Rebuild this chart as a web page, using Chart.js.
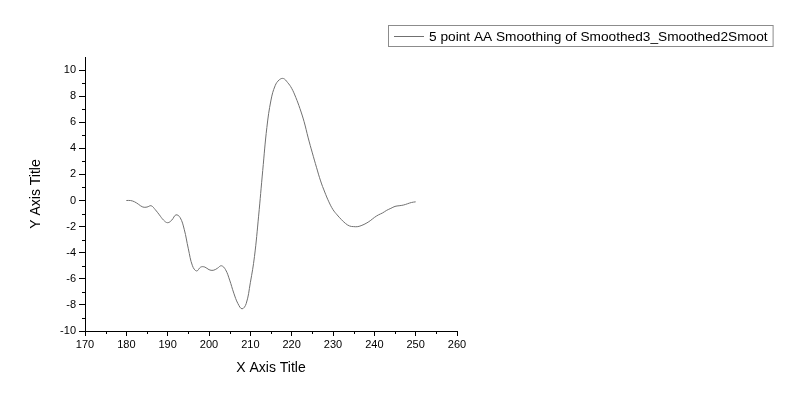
<!DOCTYPE html>
<html>
<head>
<meta charset="utf-8">
<script src="https://cdn.jsdelivr.net/npm/chart.js@4.4.1/dist/chart.umd.min.js"></script>
<style>
  html, body { margin: 0; padding: 0; background: #fff; }
  #wrap { width: 800px; height: 403px; }
</style>
</head>
<body>
<div id="wrap"><canvas id="chart" width="800" height="403"></canvas></div>
<script>
const seriesLabel = '5 point AA Smoothing of Smoothed3_Smoothed2Smoot'
const xValues = [
  180, 181, 182, 183, 184, 185, 186, 187, 188, 189,
  190, 191, 192, 193, 194, 195, 196, 197, 198, 199,
  200, 201, 202, 203, 204, 205, 206, 207, 208, 209,
  210, 211, 212, 213, 214, 215, 216, 217, 218, 219,
  220, 221, 222, 223, 224, 225, 226, 227, 228, 229,
  230, 231, 232, 233, 234, 235, 236, 237, 238, 239,
  240, 241, 242, 243, 244, 245, 246, 247, 248, 249, 250
]
const yValues = [
  0.0, 0.0, -0.1, -0.3, -0.5, -0.5, -0.4, -0.7, -1.1, -1.5,
  -1.7, -1.5, -1.1, -1.3, -2.2, -3.7, -5.0, -5.4, -5.1, -5.1,
  -5.3, -5.35, -5.2, -5.0, -5.3, -6.1, -7.1, -7.9, -8.3, -7.9,
  -6.3, -4.3, -1.2, 2.3, 5.6, 7.7, 8.8, 9.25, 9.35, 9.05,
  8.6, 7.9, 7.05, 6.05, 4.8, 3.65, 2.55, 1.5, 0.65, -0.1,
  -0.7, -1.1, -1.45, -1.75, -1.95, -2.0, -2.0, -1.9, -1.75, -1.55,
  -1.3, -1.1, -0.95, -0.75, -0.6, -0.45, -0.4, -0.35, -0.25, -0.15, -0.1
]
const xTicks = [170, 180, 190, 200, 210, 220, 230, 240, 250, 260]
const yTicks = [-10, -8, -6, -4, -2, 0, 2, 4, 6, 8, 10]
const lineColor = '#707070'
const fontFamily = '"Liberation Sans", Arial, sans-serif'

// minor ticks half way between the major ones, Origin style
const minorTicks = {
  id: 'minorTicks',
  afterDraw(chart) {
    const ctx = chart.ctx
    const xs = chart.scales.x
    const ys = chart.scales.y
    ctx.save()
    ctx.strokeStyle = '#000'
    ctx.lineWidth = 1
    ctx.beginPath()
    for (let i = 0; i < xTicks.length - 1; i++) {
      const px = Math.round(xs.getPixelForValue((xTicks[i] + xTicks[i + 1]) / 2)) + 0.5
      ctx.moveTo(px, ys.bottom)
      ctx.lineTo(px, ys.bottom + 3)
    }
    for (let i = 0; i < yTicks.length - 1; i++) {
      const py = Math.round(ys.getPixelForValue((yTicks[i] + yTicks[i + 1]) / 2)) + 0.5
      ctx.moveTo(xs.left, py)
      ctx.lineTo(xs.left - 3, py)
    }
    ctx.stroke()
    ctx.restore()
  }
}

// boxed legend at the top right
const boxLegend = {
  id: 'boxLegend',
  afterDraw(chart) {
    const ctx = chart.ctx
    const ds = chart.data.datasets[0]
    ctx.save()
    ctx.font = '13.7px ' + fontFamily
    const textW = ctx.measureText(ds.label).width
    const left = 388, top = 25, h = 21
    const w = 6 + 30 + 5 + textW + 5
    ctx.strokeStyle = '#8c8c8c'
    ctx.lineWidth = 1
    ctx.strokeRect(left + 0.5, top + 0.5, w, h)
    ctx.strokeStyle = ds.borderColor
    ctx.beginPath()
    ctx.moveTo(left + 6, top + 11.5)
    ctx.lineTo(left + 36, top + 11.5)
    ctx.stroke()
    ctx.fillStyle = '#000'
    ctx.textBaseline = 'middle'
    ctx.fillText(ds.label, left + 41, top + 12)
    ctx.restore()
  }
}

const ctx = document.getElementById('chart')
new Chart(ctx, {
  type: 'line',
  data: {
    datasets: [{
      label: seriesLabel,
      data: xValues.map((x, i) => ({ x, y: yValues[i] })),
      borderColor: lineColor,
      borderWidth: 1,
      pointRadius: 0,
      tension: 0.4,
      fill: false
    }]
  },
  options: {
    responsive: false,
    animation: false,
    layout: { padding: { left: 0, right: 343, top: 57, bottom: 14 } },
    plugins: {
      legend: { display: false },
      tooltip: { enabled: false }
    },
    scales: {
      x: {
        type: 'linear',
        min: 170,
        max: 260,
        afterBuildTicks: (scale) => { scale.ticks = xTicks.map(v => ({ value: v })) },
        afterFit: (scale) => { scale.height = 58 },
        grid: { drawOnChartArea: false, tickLength: 5, color: '#000' },
        border: { color: '#000' },
        ticks: { color: '#000', font: { family: fontFamily, size: 11 }, padding: 2, maxRotation: 0 },
        title: { display: true, text: 'X Axis Title', color: '#000', font: { family: fontFamily, size: 14 }, padding: { top: 6, bottom: 12 } }
      },
      y: {
        type: 'linear',
        min: -10,
        max: 11,
        afterBuildTicks: (scale) => { scale.ticks = yTicks.map(v => ({ value: v })) },
        afterFit: (scale) => { scale.width = 85 },
        grid: { drawOnChartArea: false, tickLength: 6, color: '#000' },
        border: { color: '#000' },
        ticks: { color: '#000', font: { family: fontFamily, size: 11 }, padding: 3 },
        title: { display: true, text: 'Y Axis Title', color: '#000', font: { family: fontFamily, size: 14 }, padding: { top: 28, bottom: 0 } }
      }
    }
  },
  plugins: [minorTicks, boxLegend]
})
</script>
</body>
</html>
